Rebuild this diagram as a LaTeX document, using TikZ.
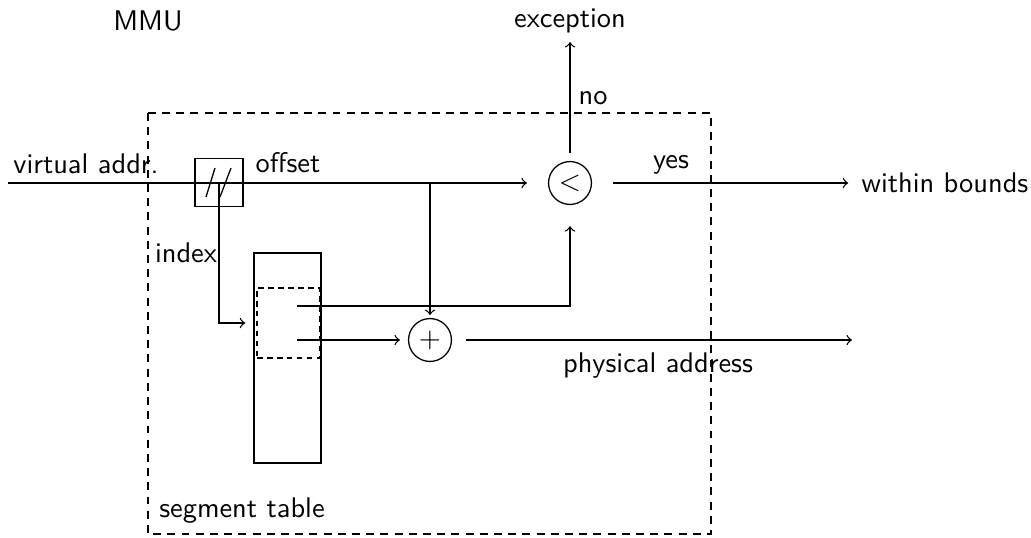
\documentclass[tikz,border=0pt]{standalone}
\usepackage{tikz}
\usetikzlibrary{calc}
\begin{document}
\begin{tikzpicture}[x=0.352pt,y=-0.352pt,
  font=\sffamily\fontsize{10}{12}\selectfont,
  every path/.style={line width=0.45pt},
  lbl/.style={anchor=base,inner sep=0pt},
  opcirc/.style={draw,circle,inner sep=0pt,minimum size=15.1pt},
  arr/.style={->,>=to}]
\useasboundingbox (0,0) rectangle (1031,537);

% MMU boundary
\node[lbl] (mmu) at (148,30) {MMU};
\draw[dashed,dash pattern=on 2.8pt off 2.2pt] (148,113) rectangle (711,534);

% splitter
\node[draw,minimum size=16.9pt,inner sep=0pt] (split) at (219,182.5) {};
\draw (206,197) -- (215,168);
\draw (220,197) -- (231,168);

% segment table and selected entry
\node[draw,minimum width=23.6pt,minimum height=73.9pt,inner sep=0pt] (seg) at (287.5,358) {};
\node[draw,dashed,dash pattern=on 2pt off 1.5pt,minimum width=22.2pt,minimum height=24.6pt,inner sep=0pt] (entry) at (288.5,323) {};
\coordinate (lim) at (297,306);
\coordinate (base) at (297,340);

% operators
\node[opcirc] (cmp) at (570,183) {$<$};
\node[opcirc] (add) at (430,340) {$+$};

% external ends
\coordinate (in) at (8,183);
\coordinate (branch) at (430,183);
\coordinate (phys) at (852,340);
\node[anchor=west,inner sep=0pt] (ok) at (861,183) {within bounds};
\node[lbl] (exc) at (570,27) {exception};
\coordinate (excin) at (570,42);

% labels
\node[lbl] at (86,173) {virtual addr.};
\node[lbl] at (288,172) {offset};
\node[lbl] at (186,262) {index};
\node[lbl] at (671,168) {yes};
\node[lbl] at (593,104) {no};
\node[lbl] at (658,372) {physical address};
\node[lbl] at (242,517) {segment table};

% connectors
\draw[arr,shorten >=7.4pt] (in) -- (cmp.west);
\draw[arr,shorten >=3.9pt] (split.center) |- (entry.west);
\draw[arr,shorten >=1pt] (branch) -- (add.north);
\draw[arr,shorten >=7.4pt] (lim) -| (cmp.south);
\draw[arr,shorten >=2.8pt] (base) -- (add.west);
\draw[arr,shorten <=4.9pt] (add.east) -- (phys);
\draw[arr,shorten <=7.4pt,shorten >=4.5pt] (cmp.east) -- (ok.west);
\draw[arr,shorten <=2.8pt] (cmp.north) -- (excin);
\end{tikzpicture}
\end{document}
